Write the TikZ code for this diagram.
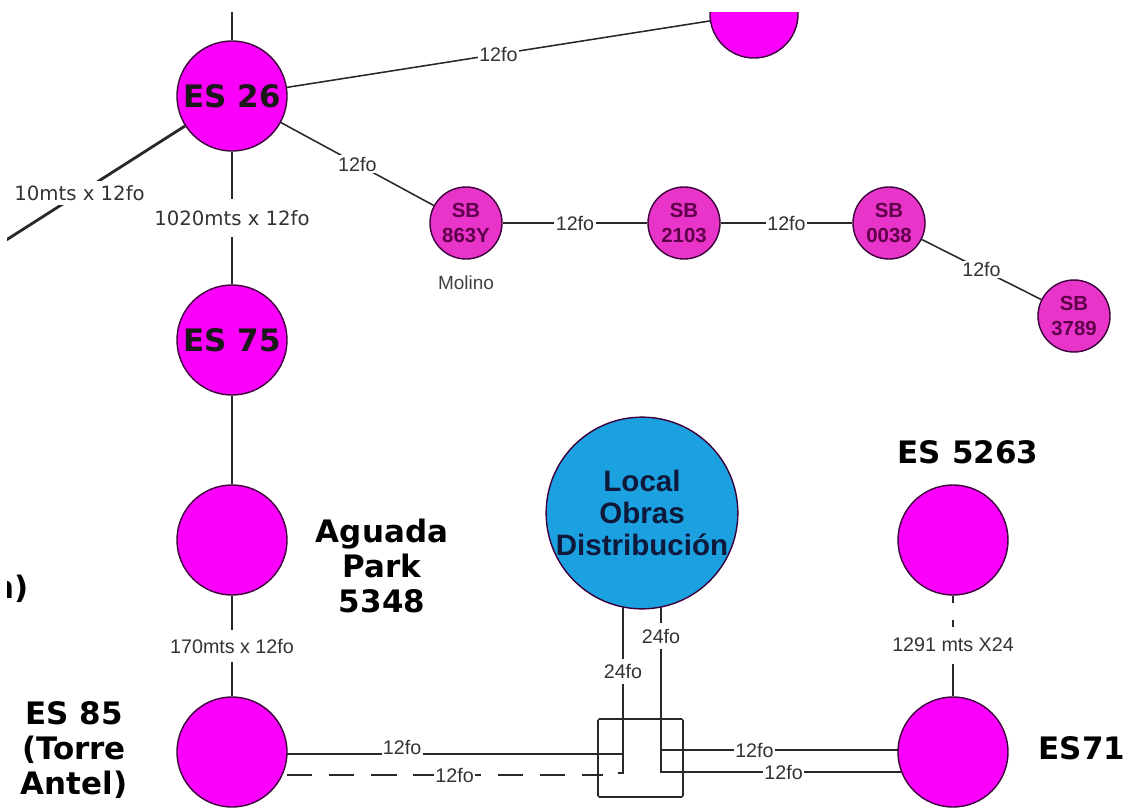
\documentclass[tikz,border=0pt]{standalone}
\usepackage{fontspec}
\setmainfont{Liberation Sans}
\newfontfamily\verdfont{DejaVu Sans}
\usetikzlibrary{backgrounds}

\definecolor{esmag}{RGB}{250,0,250}
\definecolor{sbpink}{RGB}{232,52,200}
\definecolor{localblue}{RGB}{27,160,224}
\definecolor{rim}{RGB}{60,0,60}
\definecolor{wire}{RGB}{40,40,40}
\definecolor{sbtext}{RGB}{95,0,75}
\definecolor{navy}{RGB}{15,25,60}

\tikzset{
  es/.style={circle, draw=rim, line width=1pt, fill=esmag, minimum size=2.75cm, inner sep=0pt,
    font=\verdfont\bfseries\fontsize{22}{26}\selectfont, text=black!90},
  sb/.style={circle, draw=rim, line width=1pt, fill=sbpink, minimum size=1.8cm, inner sep=0pt,
    align=center, font=\bfseries\fontsize{14.5}{17.5}\selectfont, text=sbtext},
  bigname/.style={align=center, font=\verdfont\bfseries\fontsize{22}{25}\selectfont},
  fibre/.style={draw=wire, line width=1.1pt},
  lbl/.style={fill=white, inner sep=1pt, text=black!80, font=\fontsize{14}{16}\selectfont},
  vlbl/.style={lbl, inner ysep=8pt},
  verdlbl/.style={font=\verdfont\fontsize{14}{16}\selectfont},
}

\begin{document}
\begin{tikzpicture}[x=0.025cm, y=-0.025cm]
\useasboundingbox (0,0) rectangle (1132,810);
\clip (7,12) rectangle (1132,810);

% estaciones
\node[es] (es26) at (232,96) {ES 26};
\node[es] (es75) at (232,340) {ES 75};
\node[es] (aguada) at (232,540) {};
\node[es] (es85) at (232,752) {};
\node[es] (es5263) at (953,540) {};
\node[es] (es71) at (953,752) {};
\node[es, minimum size=2.2cm] (esnorth) at (754,14) {};
\node[circle, draw=rim, line width=1pt, fill=localblue, minimum size=4.65cm, inner sep=0pt,
  align=center, text=navy, font=\bfseries\fontsize{21}{22.7}\selectfont] (local) at (642,513)
  {Local\\Obras\\Distribución};

\node[sb] (sb863) at (466,223) {SB\\863Y};
\node[sb] (sb2103) at (684,223) {SB\\2103};
\node[sb] (sb0038) at (889,223) {SB\\0038};
\node[sb] (sb3789) at (1074,316) {SB\\3789};
\node[font=\fontsize{13.5}{16}\selectfont, text=black!75] (molino) at (466,283) {Molino};

% nombres
\node[bigname] (aguadaname) at (382,566) {Aguada\\Park\\5348};
\node[bigname] (es85name) at (74,750) {ES 85\\(Torre\\Antel)};
\node[bigname] (es5263name) at (968,452) {ES 5263};
\node[bigname] (es71name) at (1082,748) {ES71};
\node[bigname, anchor=east] (cutname) at (34,589) {n)};

% caja de empalme
\node[draw=wire, line width=1.1pt, rounded corners=1pt, minimum width=2.125cm,
  minimum height=1.95cm] (caja) at (640.5,758) {};
\node[lbl, inner ysep=8pt] (lbl1291) at (953,645) {1291 mts X24};

\begin{scope}[on background layer]
\clip (7,12) rectangle (1132,810);
\coordinate (upend) at (232,0);
\coordinate (nwend) at (0,244);
\draw[fibre] (es26) -- (upend);
\draw[fibre] (es26) -- node[lbl]{12fo} (esnorth);
\draw[fibre, line width=2pt] (es26) -- node[lbl, verdlbl, pos=0.57, inner ysep=3pt]{10mts x 12fo} (nwend);
\draw[fibre] (es26) -- node[vlbl, verdlbl]{1020mts x 12fo} (es75);
\draw[fibre] (es75) -- (aguada);
\draw[fibre] (aguada) -- node[vlbl, inner ysep=6pt]{170mts x 12fo} (es85);

\draw[fibre] (es26) -- node[lbl]{12fo} (sb863);
\draw[fibre] (sb863) -- node[lbl]{12fo} (sb2103);
\draw[fibre] (sb2103) -- node[lbl]{12fo} (sb0038);
\draw[fibre] (sb0038) -- node[lbl]{12fo} (sb3789);

\draw[fibre, dash pattern=on 5pt off 12pt] (es5263) -- (lbl1291.north);
\draw[fibre] (lbl1291.south) -- (es71);

% fibras hacia la caja
\coordinate (ajoin) at (623,754);
\coordinate (dashend) at (603,775);
\coordinate (atop) at (623,513);
\coordinate (abot) at (623,773);
\coordinate (btop) at (661,513);
\coordinate (bbot) at (661,772);
\coordinate (btap) at (661,750);
\draw[fibre] (ajoin -| es85) -- node[lbl, pos=0.435, anchor=base]{12fo} (ajoin);
\draw[fibre, dash pattern=on 18pt off 12pt, dash phase=21pt] (dashend -| es85)
  -- node[lbl, pos=0.6]{12fo} (dashend);
\draw[fibre] (atop) -- node[lbl, pos=0.61, inner ysep=4pt]{24fo} (abot) -- ++(-5,0);
\draw[fibre] (btop) -- node[lbl, pos=0.475, inner ysep=4pt]{24fo} (bbot)
  -- node[lbl, pos=0.42]{12fo} (bbot -| es71);
\draw[fibre] (btap) -- node[lbl, pos=0.32]{12fo} (btap -| es71);
\end{scope}
\end{tikzpicture}
\end{document}
